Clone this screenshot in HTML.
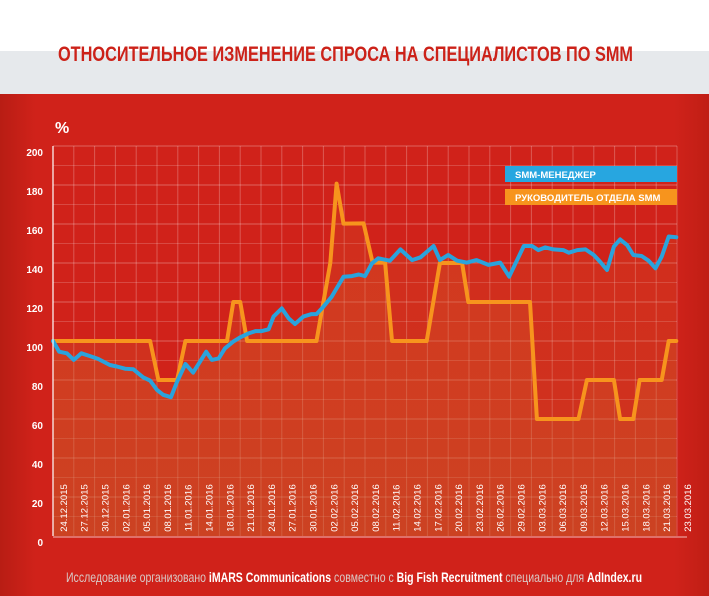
<!DOCTYPE html>
<html><head><meta charset="utf-8"><style>
html,body{margin:0;padding:0;width:709px;height:596px;overflow:hidden;background:#fff}
svg{display:block}
text{font-family:"Liberation Sans Narrow","Liberation Sans",sans-serif}
</style></head><body>
<svg id="chart" width="709" height="596" viewBox="0 0 709 596">
<defs>
<linearGradient id="bg" x1="0" y1="0" x2="1" y2="0">
<stop offset="0" stop-color="#b81d14"/><stop offset="0.05" stop-color="#d0221a"/><stop offset="0.95" stop-color="#d0221a"/><stop offset="1" stop-color="#c01e15"/>
</linearGradient>
<linearGradient id="fillg" x1="0" y1="0" x2="0" y2="1">
<stop offset="0" stop-color="#d8692a" stop-opacity="0.15"/><stop offset="1" stop-color="#c8602a" stop-opacity="0.3"/>
</linearGradient>
</defs>
<rect x="0" y="0" width="709" height="51" fill="#ffffff"/>
<rect x="0" y="51" width="709" height="43" fill="#e6e9ec"/>
<text x="58" y="61" font-size="21" font-weight="bold" fill="#cc2219" textLength="575" lengthAdjust="spacingAndGlyphs">ОТНОСИТЕЛЬНОЕ ИЗМЕНЕНИЕ СПРОСА НА СПЕЦИАЛИСТОВ ПО SMM</text>
<rect x="0" y="94" width="709" height="502" fill="url(#bg)"/>
<text x="55" y="133" font-size="16" font-weight="bold" fill="#fff">%</text>
<g id="grid"></g>
<g id="fills"></g>
<g id="lines"></g>
<g id="axes"></g>
<g>
<rect x="505" y="166" width="172" height="16" fill="#27a6e0"/>
<text x="515" y="178" font-size="9.5" font-weight="bold" fill="#fff">SMM-МЕНЕДЖЕР</text>
<rect x="505" y="189" width="172" height="16" fill="#f7941d"/>
<text x="515" y="201" font-size="9.5" font-weight="bold" fill="#fff">РУКОВОДИТЕЛЬ ОТДЕЛА SMM</text>
</g>
<text x="354" y="582" text-anchor="middle" font-size="14" fill="#d9c9c6" textLength="576" lengthAdjust="spacingAndGlyphs">Исследование организовано <tspan fill="#fff" font-weight="bold">iMARS Communications</tspan> совместно с <tspan fill="#fff" font-weight="bold">Big Fish Recruitment</tspan> специально для <tspan fill="#fff" font-weight="bold">AdIndex.ru</tspan></text>
</svg>
<script>
const dateLabels=["24.12.2015","27.12.2015","30.12.2015","02.01.2016","05.01.2016","08.01.2016","11.01.2016","14.01.2016","18.01.2016","21.01.2016","24.01.2016","27.01.2016","30.01.2016","02.02.2016","05.02.2016","08.02.2016","11.02.2016","14.02.2016","17.02.2016","20.02.2016","23.02.2016","26.02.2016","29.02.2016","03.03.2016","06.03.2016","09.03.2016","12.03.2016","15.03.2016","18.03.2016","21.03.2016","23.03.2016"];
const yTicks=[0,20,40,60,80,100,120,140,160,180,200];
const managerDays=[0,0.9,2,3,4.1,5.3,6.5,8.2,9.2,10.4,11.6,12.3,13,14,15,15.9,17,17.9,19.1,20.2,21.2,22.1,22.9,23.9,24.8,26,27,28.2,29.2,30.1,31.1,31.8,33,34,34.9,36.1,37.3,38,39,40.2,40.9,41.9,43.1,44.1,45,46,46.9,48.6,50.1,51.8,53,54.9,55.8,57,58.3,59.7,61.1,62.8,64.5,65.8,67.9,69.1,70,71,72.2,73.6,74.4,75.6,76.8,78,78.9,79.9,80.9,81.8,82.8,83.7,84.9,85.9,86.9,87.8,88.8,89.9];
const managerValues=[100,94.5,93.7,90.3,93.7,92.3,90.8,87.7,86.9,85.8,85.5,83.4,81.4,79.7,74.9,72.4,71.2,79.2,88.2,83.8,89.4,94.5,90.3,91.1,96.2,99.7,101.9,103.9,105.1,105.1,106,112.5,116.7,111.6,108.7,112.5,113.8,113.8,117.6,122.7,127,132.9,133.3,134.1,133.3,139.8,142.4,141.2,147,141.5,142.9,148.7,141.5,144.1,141.2,140.2,141.5,139,140.2,133,148.7,148.7,146.6,148,147,146.6,145.3,146.6,147,144.1,140.7,136.4,148.4,152.1,149.2,144.1,143.6,141.2,137.3,143.3,153.6,153.2];
const headDays=[0,14,15.2,17.9,19.1,25.1,26,27,28,38,40,40.9,41.9,44.8,46.1,47.9,48.9,53.9,55.8,59,59.9,68.8,69.8,75.8,77,80.9,81.8,83.7,84.6,87.8,88.8,89.9];
const headValues=[100,100,80,80,100,100,120,120,100,100,140,180.7,160.2,160.3,140.2,140.2,100,100,140,140,120,120,60,60,80,80,60,60,80,80,100,100];

const X0=53,X1=677,Y0=536,Y1=146,DMAX=90,VMAX=200,NCOL=30;
const sx=d=>X0+(X1-X0)*d/DMAX;
const sy=v=>Y0-(Y0-Y1)*v/VMAX;
const NS="http://www.w3.org/2000/svg";
function mk(tag,attrs,parent){const e=document.createElementNS(NS,tag);for(const k in attrs)e.setAttribute(k,attrs[k]);parent.appendChild(e);return e;}
const grid=document.getElementById('grid'),fills=document.getElementById('fills'),lines=document.getElementById('lines'),axes=document.getElementById('axes');
for(let v=10;v<=VMAX;v+=10){
  const l=mk('line',{x1:X0,x2:X1,y1:sy(v),y2:sy(v),stroke:'#fff','stroke-opacity':v%20===0?0.3:0.18,'stroke-width':1},grid);
  
  
}
const colW=(X1-X0)/NCOL;
for(let i=1;i<=NCOL;i++){
  const x=X0+i*colW;
  const l=mk('line',{x1:x,x2:x,y1:Y1,y2:Y0,stroke:'#fff','stroke-opacity':0.25,'stroke-width':1},grid);
  
  
}
function series(days,vals,color,name){
  let d='';days.forEach((dd,i)=>{d+=(i?'L':'M')+sx(dd).toFixed(1)+','+sy(vals[i]).toFixed(1);});
  const a=mk('path',{d:d+'L'+sx(days[days.length-1])+','+Y0+'L'+sx(days[0])+','+Y0+'Z',fill:'url(#fillg)'},fills);
  
  
  const p=mk('path',{d:d,fill:'none',stroke:color,'stroke-width':4,'stroke-linejoin':'round','stroke-linecap':'round'},lines);
  
  
}
series(headDays,headValues,'#f7941d','smm-head');
series(managerDays,managerValues,'#2aa3dc','smm-manager');
const ax=mk('line',{x1:X0,x2:X0,y1:Y1,y2:Y0,stroke:'#fff','stroke-width':1.2},axes);


const bx=mk('line',{x1:X0,x2:X1+10,y1:Y0+1,y2:Y0+1,stroke:'#fff','stroke-opacity':0.7,'stroke-width':1},axes);


yTicks.forEach(v=>{
  const t=mk('text',{x:43,y:sy(v)+10,'text-anchor':'end','font-size':10,'font-weight':'bold',fill:'#fff'},axes);
  t.textContent=v;
  
  
});
dateLabels.forEach((s,i)=>{
  const cx=X0+(i+0.5)*colW+3.5,cy=508;
  const t=mk('text',{x:cx,y:cy,'text-anchor':'middle','font-size':9.5,fill:'#fff',transform:`rotate(-90 ${cx} ${cy})`},axes);
  t.textContent=s;
  
  
});
</script>
</body></html>
